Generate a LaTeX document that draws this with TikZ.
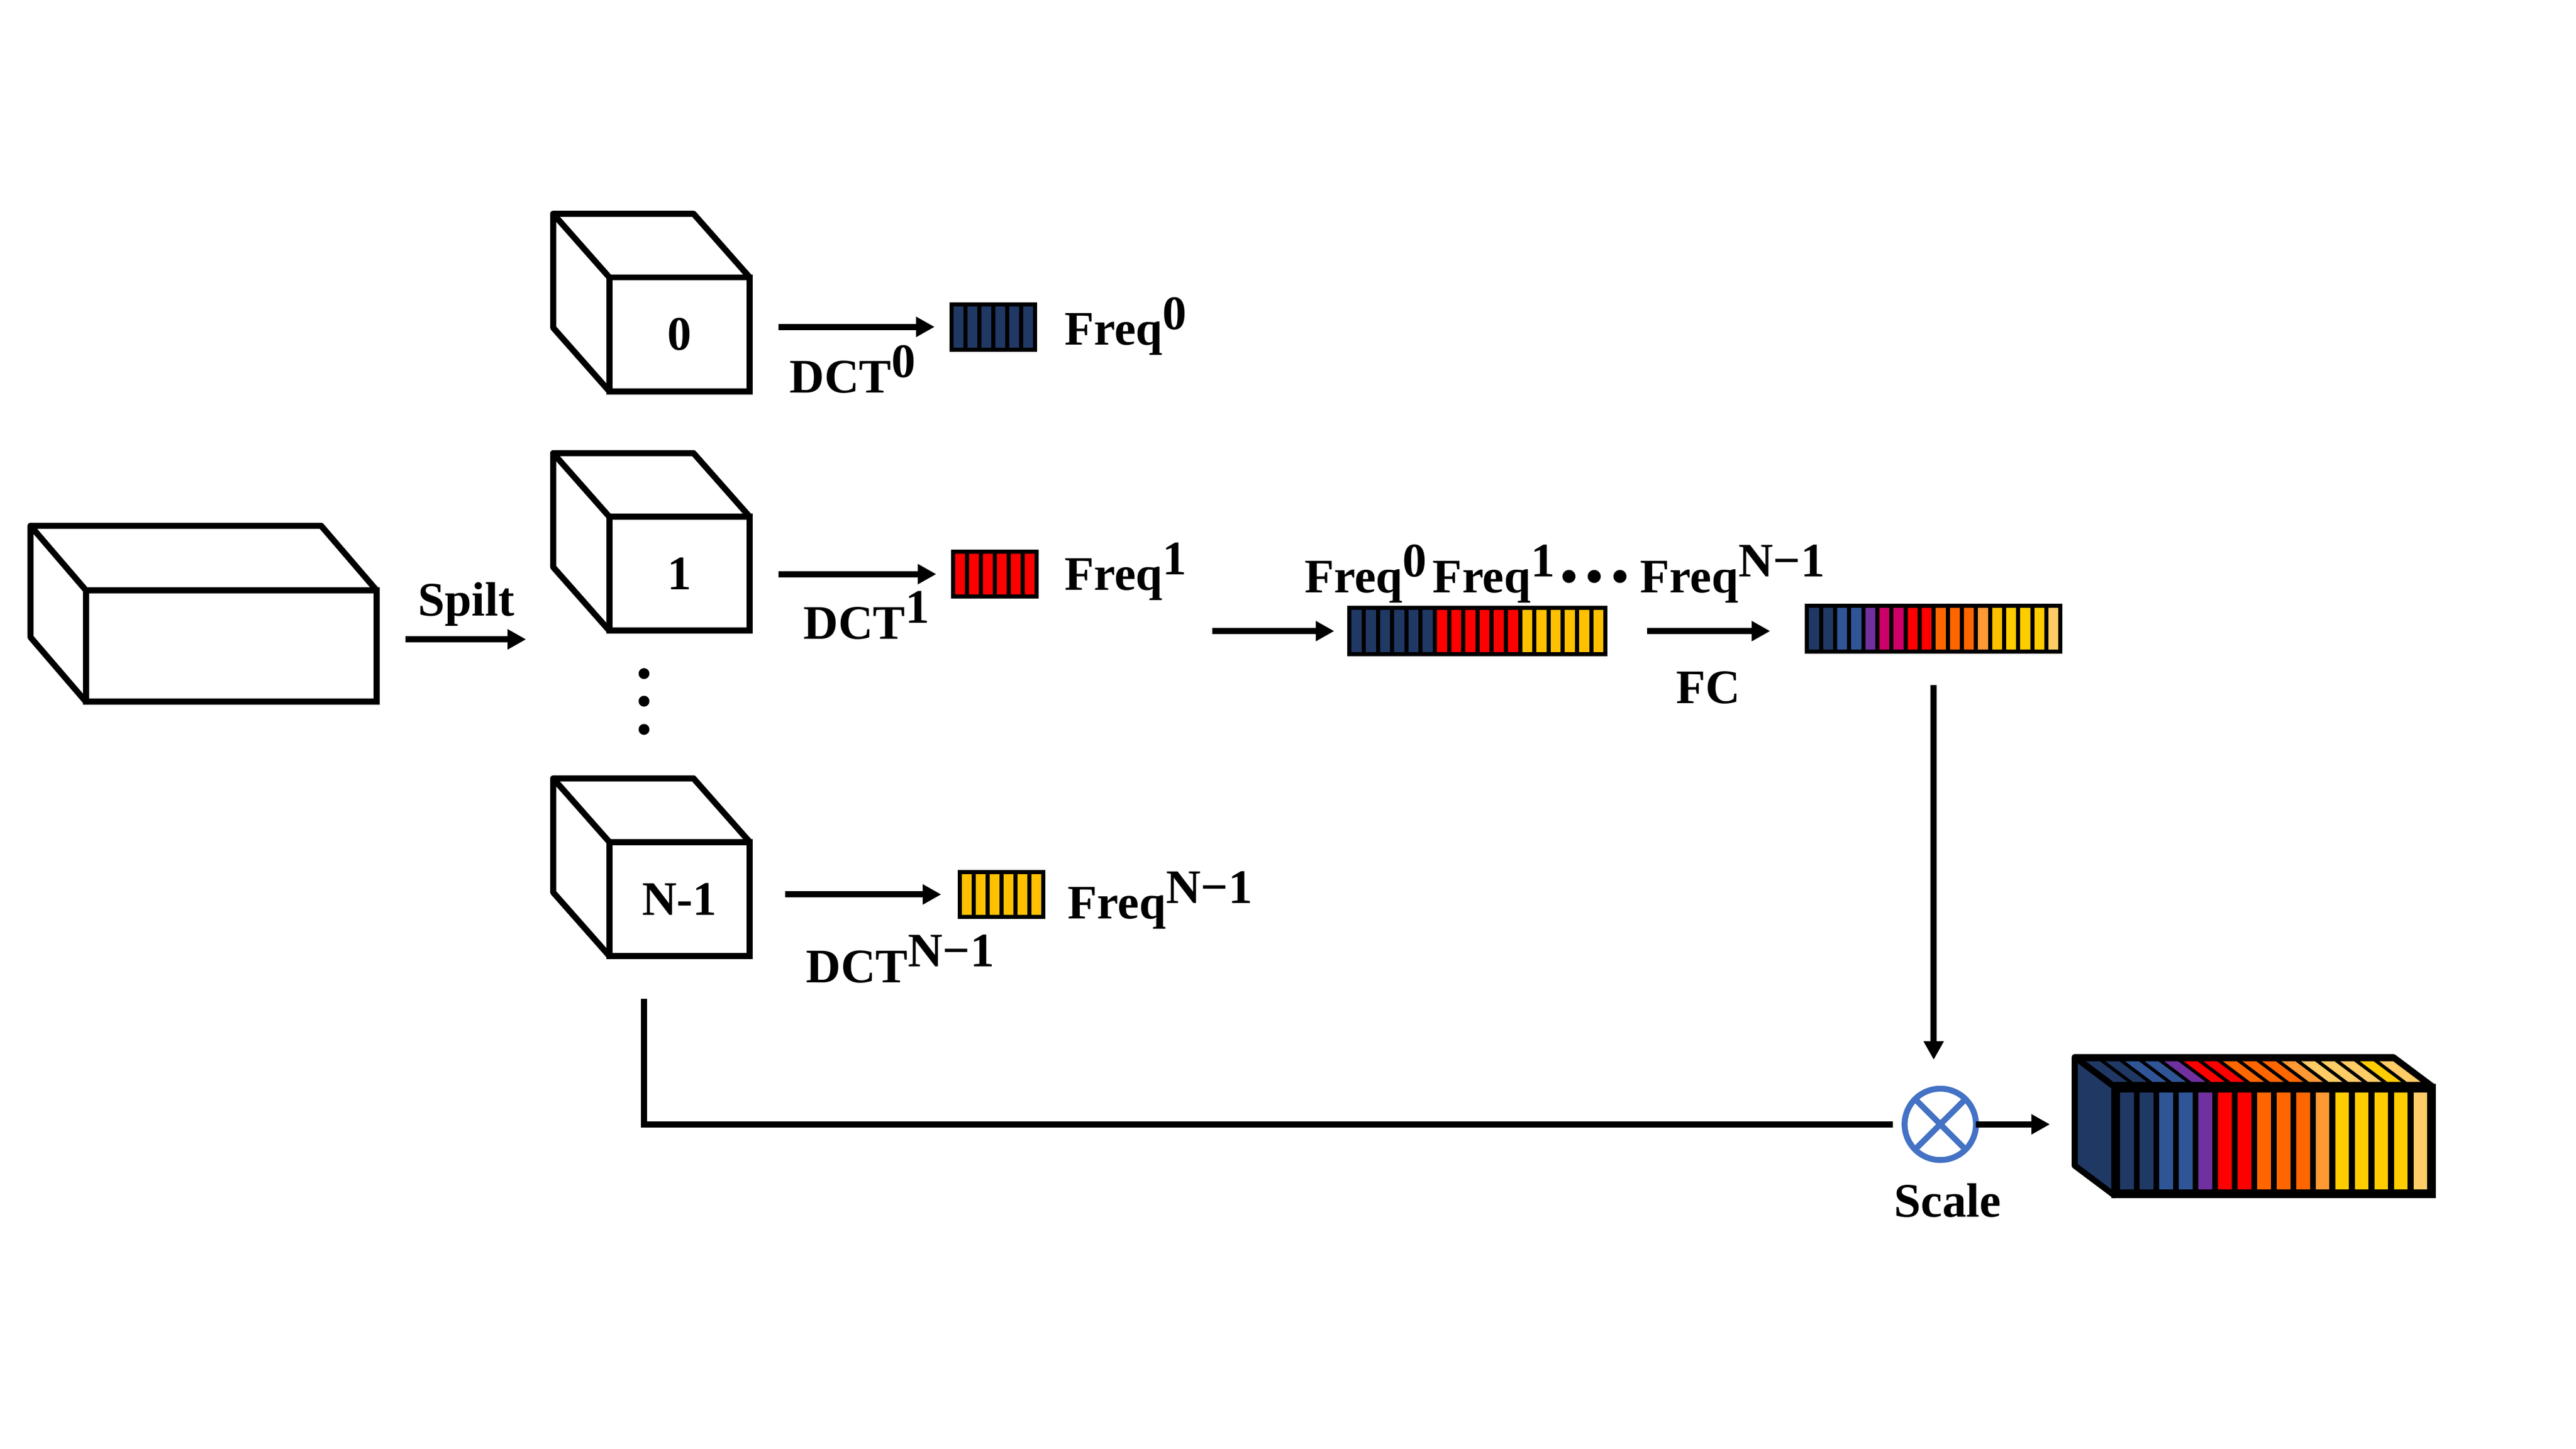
\documentclass[tikz,border=0pt]{standalone}
\usepackage{fontspec}
\setmainfont{Liberation Serif}
\usetikzlibrary{arrows.meta, positioning, calc}

\definecolor{navy}{HTML}{203864}
\definecolor{steel}{HTML}{2F5597}
\definecolor{plum}{HTML}{7030A0}
\definecolor{berry}{HTML}{CC0066}
\definecolor{hotred}{HTML}{FF0000}
\definecolor{tangerine}{HTML}{FF6600}
\definecolor{apricot}{HTML}{FF9933}
\definecolor{amber}{HTML}{FFC000}
\definecolor{sun}{HTML}{FFCC00}
\definecolor{cream}{HTML}{FFCC66}
\definecolor{otimesblue}{HTML}{4472C4}

\newcommand{\lblfont}{\fontsize{8.3pt}{10pt}\selectfont\bfseries}
\newcommand{\supidx}[1]{\raisebox{2.7pt}{#1}}

% back and side edges of a box whose front face is node #1
\newcommand{\prism}[3]{%
  \draw[edge, line join=round] (#1.south west) -- ++(#2,#3) -- ($(#1.north west)+(#2,#3)$)
    -- ($(#1.north east)+(#2,#3)$) -- (#1.north east)
    (#1.north west) -- ++(#2,#3);}

% striped feature bar: name, x, y (top left), width, height, count, colours
\newcommand{\freqbar}[7]{%
  \node[barbox, minimum width=#4cm, minimum height=#5cm] (#1) at (#2,#3) {};
  \pgfmathsetmacro{\pitch}{(#4-0.025)/#6}
  \foreach \c [count=\i from 0] in {#7}
    \fill[fill=\c] ({#2+0.025+\i*\pitch},{#3-0.025}) rectangle ++({\pitch-0.025},{-#5+0.05});}

\begin{document}
\begin{tikzpicture}[
  edge/.style={line width=1.05pt},
  arr/.style={line width=1.05pt, -{Triangle[length=3.2pt,width=3.3pt]}},
  lbl/.style={font=\lblfont, inner sep=0pt},
  face/.style={draw, line width=1.05pt, inner sep=0pt, outer sep=0pt,
    minimum width=0.85cm, minimum height=0.69cm, font=\lblfont},
  barbox/.style={fill=black, inner sep=0pt, outer sep=0pt, anchor=north west},
]
\useasboundingbox (0,0) rectangle (15.6,-8.774);

% input feature
\node[face, minimum width=1.76cm, minimum height=0.675cm, anchor=north west] (big) at (0.52,-3.575) {};
\prism{big}{-0.335}{0.39}
\draw[arr] ([xshift=1.76mm,yshift=0.4mm]big.east) -- ++(0.73,0);
\node[lbl, anchor=base] (spl) at (2.825,-3.73) {Spilt};

% split parts
\node[face, anchor=north west] (c0) at (3.69,-1.68) {0};
\node[face, anchor=north west] (c1) at (3.69,-3.13) {1};
\node[face, anchor=north west] (cN) at (3.69,-5.10) {N-1};
\foreach \n in {c0,c1,cN} {\prism{\n}{-0.34}{0.385}}
\foreach \y in {4.08,4.247,4.418} \fill (3.90,-\y) circle (0.033);

% frequency vectors
\freqbar{f0}{5.75}{-1.83}{0.53}{0.30}{6}{navy,navy,navy,navy,navy,navy}
\freqbar{f1}{5.76}{-3.33}{0.53}{0.295}{6}{hotred,hotred,hotred,hotred,hotred,hotred}
\freqbar{fN}{5.80}{-5.27}{0.53}{0.295}{6}{amber,amber,amber,amber,amber,amber}

\draw[arr] ([xshift=1.75mm]c0.east |- f0.west) -- ([xshift=-0.9mm]f0.west);
\draw[arr] ([xshift=1.75mm]c1.east |- f1.west) -- ([xshift=-0.9mm]f1.west);
\draw[arr] ([xshift=2.15mm]cN.east |- fN.west) -- ([xshift=-1mm]fN.west);

\node[lbl, anchor=base west] (d0) at (4.775,-2.38) {DCT\supidx{0}};
\node[lbl, anchor=base west] (d1) at (4.86,-3.87) {DCT\supidx{1}};
\node[lbl, anchor=base west] (dN) at (4.875,-5.95) {DCT\supidx{N−1}};
\node[lbl, anchor=base west] (q0) at (6.44,-2.09) {Freq\supidx{0}};
\node[lbl, anchor=base west] (q1) at (6.44,-3.575) {Freq\supidx{1}};
\node[lbl, anchor=base west] (qN) at (6.46,-5.566) {Freq\supidx{N−1}};

% concatenation and FC
\freqbar{cat}{8.16}{-3.67}{1.575}{0.305}{18}{navy,navy,navy,navy,navy,navy,hotred,hotred,hotred,hotred,hotred,hotred,amber,amber,amber,amber,amber,amber}
\draw[arr] ([xshift=-8.2mm]cat.west) -- ([xshift=-0.8mm]cat.west);
\node[lbl, anchor=base west] (catlbl) at (7.894,-3.588)
  {Freq\supidx{0}\hspace{1pt}Freq\supidx{1}\hspace{1pt}•\hspace{1.5pt}•\hspace{1.5pt}•\hspace{2pt}Freq\supidx{N−1}};

\freqbar{res}{10.93}{-3.656}{1.56}{0.304}{18}{navy,navy,steel,steel,plum,berry,berry,hotred,hotred,tangerine,tangerine,tangerine,apricot,amber,sun,sun,sun,cream}
\draw[arr] ([xshift=2.4mm]cat.east) -- ([xshift=-2.1mm]res.west |- cat.east);
\node[lbl, anchor=base] (fc) at (10.345,-4.26) {FC};

% scale
\node[draw=otimesblue, line width=1.02pt, circle, minimum size=0.432cm, inner sep=0pt, outer sep=0pt] (circ) at (11.75,-6.81) {};
\draw[otimesblue, line width=1.02pt] (circ.north west) -- (circ.south east) (circ.north east) -- (circ.south west);
\node[lbl, anchor=base] (scl) at (11.795,-7.37) {Scale};
\draw[arr] ([yshift=-1.9mm]res.south) -- ([yshift=1.75mm]res.south |- circ.north);
\coordinate (tap) at (3.90,-6.05);
\draw[edge] (tap) |- ([xshift=-0.7mm]circ.west);

% output feature
\node[barbox, minimum width=1.93cm, minimum height=0.657cm] (out) at (12.804,-6.583) {};
\fill (out.north west) -- (out.north east) -- ++(-0.24,0.18) -- ($(out.north west)+(-0.24,0.18)$) -- cycle;
\pgfmathsetmacro{\opitch}{(1.93-0.035)/16}
\foreach \c [count=\i from 0] in {navy,navy,steel,steel,plum,hotred,hotred,tangerine,tangerine,tangerine,apricot,sun,sun,sun,sun,cream}
  \fill[fill=\c] ({12.804+0.035+\i*\opitch},-6.618) rectangle ++({\opitch-0.035},-0.587);
\foreach \c [count=\i from 0] in {navy,navy,steel,steel,plum,hotred,hotred,tangerine,tangerine,tangerine,apricot,cream,cream,cream,sun,cream}
  \fill[fill=\c] ({12.804+0.035+\i*\opitch-0.04},-6.553) -- ++({\opitch-0.035},0)
    -- ++(-0.1667,0.125) -- ++({-\opitch+0.035},0) -- cycle;
\filldraw[fill=navy, edge, line join=round] (out.north west) -- ++(-0.24,0.18) -- ++(0,-0.657) -- (out.south west) -- cycle;
\draw[edge] (out.north west) rectangle (out.south east);
\draw[edge, line join=round] (out.north west) ++(-0.24,0.18) -- ++(1.93,0) -- (out.north east);
\draw[arr] (circ.east) -- ([xshift=-3.9mm]out.west |- circ.east);
\end{tikzpicture}
\end{document}
